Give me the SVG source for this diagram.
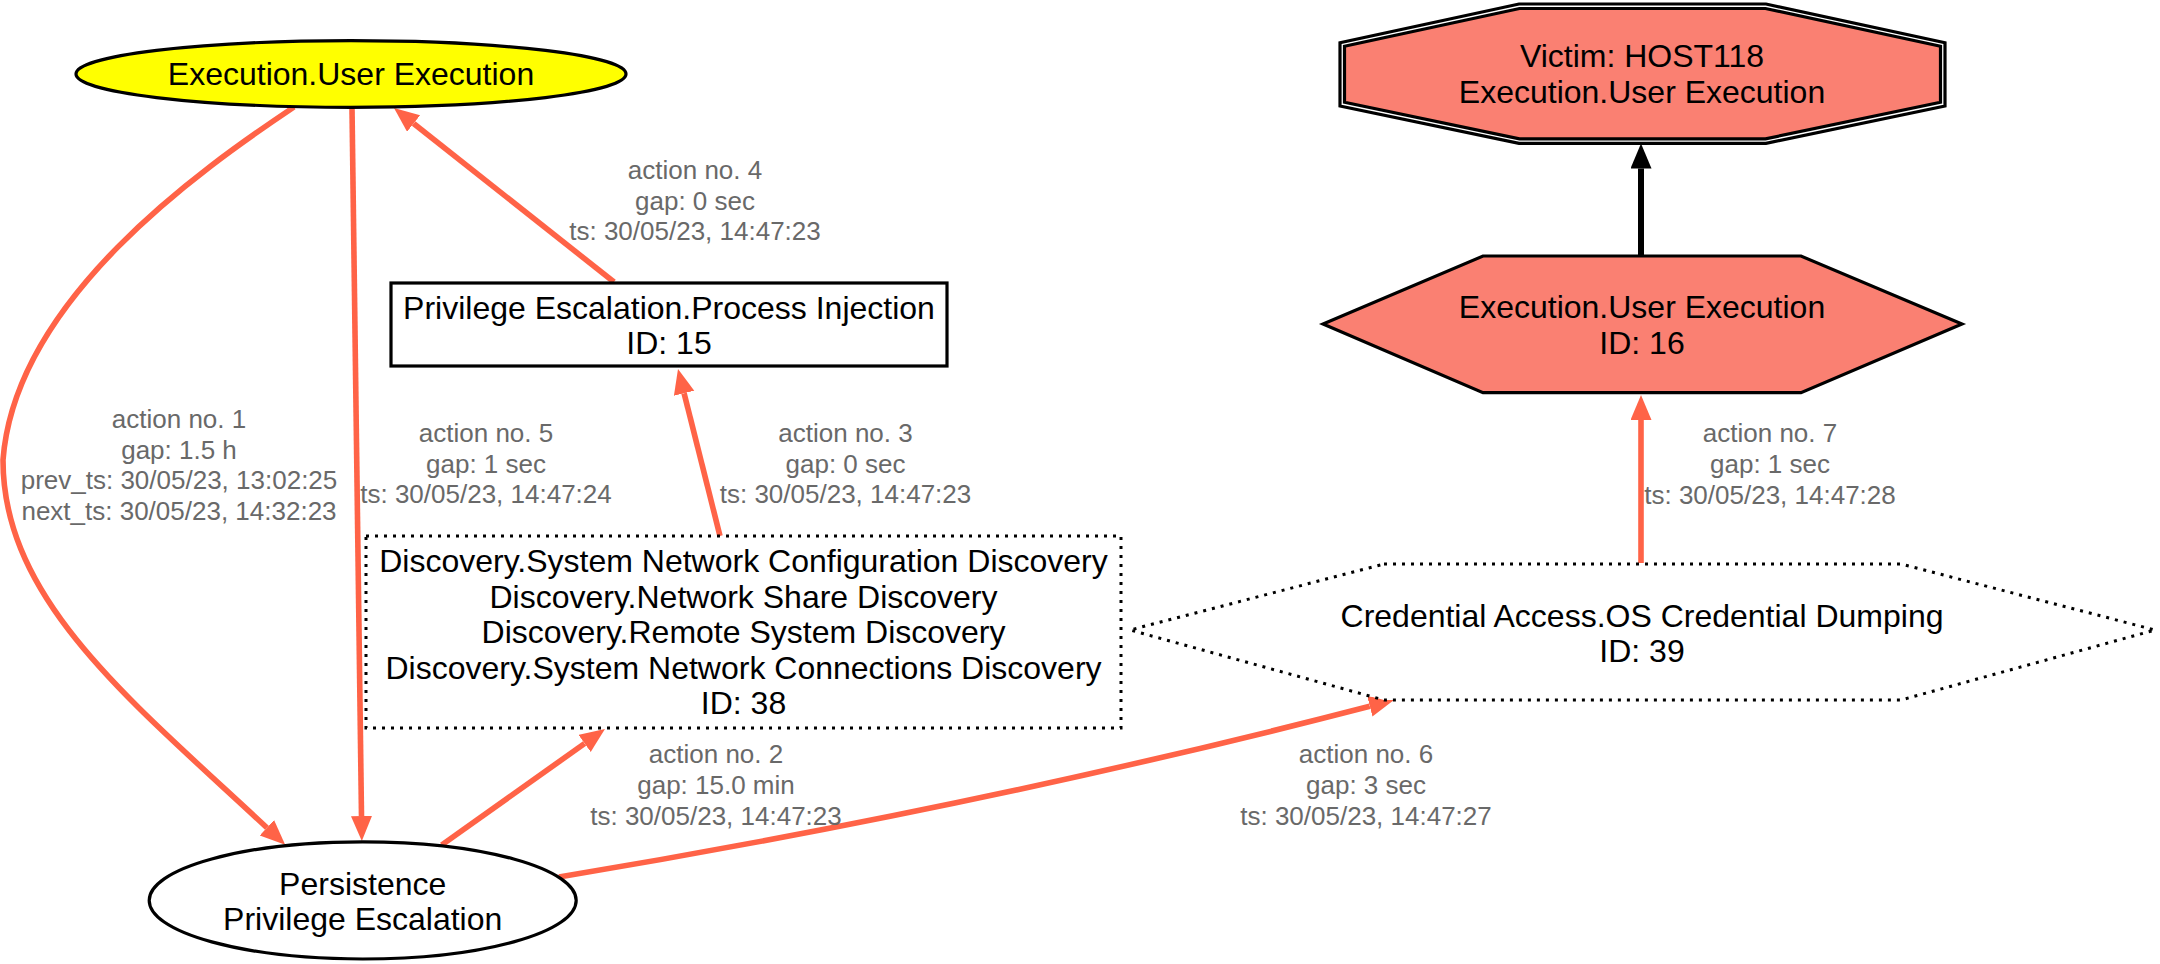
<svg xmlns="http://www.w3.org/2000/svg" width="2160" height="964" viewBox="0 0 2160 964">
<style>
.n{stroke:#000;stroke-width:3.2}
.dot{fill:#fff;stroke:#000;stroke-width:3;stroke-dasharray:3 6}
.t{font-family:"Liberation Sans",Arial,sans-serif;font-size:32px;fill:#000;text-anchor:middle}
.l{font-family:"Liberation Sans",Arial,sans-serif;font-size:26px;fill:#696969;text-anchor:middle}
.e{fill:none;stroke:#FF6347;stroke-width:5.6}
.k{fill:none;stroke:#000;stroke-width:6}
</style>
<defs>
<marker id="ar" markerUnits="userSpaceOnUse" markerWidth="27" markerHeight="23" refX="0" refY="10.5" orient="auto" viewBox="0 0 27 23">
<path d="M0,0 L25,10.5 L0,21 z" fill="#FF6347"/>
</marker>
<marker id="ak" markerUnits="userSpaceOnUse" markerWidth="27" markerHeight="23" refX="0" refY="10.5" orient="auto" viewBox="0 0 27 23">
<path d="M0,0 L25,10.5 L0,21 z" fill="#000"/>
</marker>
</defs>
<rect width="2160" height="964" fill="#fff"/>
<g id="connectors">
<path class="e" d="M294,107 C200,170 15,300 3,460 C3,600 130,700 266.9,827.7" marker-end="url(#ar)"/>
<path class="e" d="M352,108 L361.5,816" marker-end="url(#ar)"/>
<path class="e" d="M614,282 L413.6,123.5" marker-end="url(#ar)"/>
<path class="e" d="M720,536 L684.1,393.2" marker-end="url(#ar)"/>
<path class="e" d="M441.7,845 L584.6,743.5" marker-end="url(#ar)"/>
<path class="e" d="M559,877 Q985,806 1369.8,706.3" marker-end="url(#ar)"/>
<path class="e" d="M1641,563 L1641,420" marker-end="url(#ar)"/>
<path class="k" d="M1641,256 L1641,168.5" marker-end="url(#ak)"/>
<text class="l" x="179" y="428">action no. 1</text>
<text class="l" x="179" y="458.5">gap: 1.5 h</text>
<text class="l" x="179" y="489">prev_ts: 30/05/23, 13:02:25</text>
<text class="l" x="179" y="519.5">next_ts: 30/05/23, 14:32:23</text>
<text class="l" x="486" y="441.5">action no. 5</text>
<text class="l" x="486" y="472.5">gap: 1 sec</text>
<text class="l" x="486" y="503">ts: 30/05/23, 14:47:24</text>
<text class="l" x="695" y="179">action no. 4</text>
<text class="l" x="695" y="209.5">gap: 0 sec</text>
<text class="l" x="695" y="240">ts: 30/05/23, 14:47:23</text>
<text class="l" x="845.5" y="442">action no. 3</text>
<text class="l" x="845.5" y="472.5">gap: 0 sec</text>
<text class="l" x="845.5" y="503">ts: 30/05/23, 14:47:23</text>
<text class="l" x="716" y="763">action no. 2</text>
<text class="l" x="716" y="794">gap: 15.0 min</text>
<text class="l" x="716" y="825">ts: 30/05/23, 14:47:23</text>
<text class="l" x="1366" y="763">action no. 6</text>
<text class="l" x="1366" y="794">gap: 3 sec</text>
<text class="l" x="1366" y="825">ts: 30/05/23, 14:47:27</text>
<text class="l" x="1770" y="442">action no. 7</text>
<text class="l" x="1770" y="473">gap: 1 sec</text>
<text class="l" x="1770" y="504">ts: 30/05/23, 14:47:28</text>
</g>
<g id="node-user-exec">
<ellipse class="n" cx="351" cy="74" rx="275" ry="33.3" fill="#FFFF00"/>
<text class="t" x="351" y="85">Execution.User Execution</text>
</g>
<g id="node-15">
<rect class="n" x="391" y="283" width="556" height="83" fill="#fff"/>
<text class="t" x="669" y="319">Privilege Escalation.Process Injection</text>
<text class="t" x="669" y="354">ID: 15</text>
</g>
<g id="node-38">
<rect class="dot" x="366" y="536" width="755" height="192"/>
<text class="t" x="743.5" y="572">Discovery.System Network Configuration Discovery</text>
<text class="t" x="743.5" y="607.5">Discovery.Network Share Discovery</text>
<text class="t" x="743.5" y="643">Discovery.Remote System Discovery</text>
<text class="t" x="743.5" y="678.5">Discovery.System Network Connections Discovery</text>
<text class="t" x="743.5" y="714">ID: 38</text>
</g>
<g id="node-persistence">
<ellipse class="n" cx="362.7" cy="900.4" rx="213.5" ry="58.6" fill="#fff"/>
<text class="t" x="362.7" y="895">Persistence</text>
<text class="t" x="362.7" y="930">Privilege Escalation</text>
</g>
<g id="node-victim">
<polygon class="n" points="1519,4 1766,4 1945,42.7 1945,106 1766,143.3 1519,143.3 1340,106 1340,42.7" fill="none"/>
<polygon class="n" points="1519.5,8.5 1765.5,8.5 1940.5,46.3 1940.5,102.3 1765.5,138.8 1519.5,138.8 1344.5,102.3 1344.5,46.3" fill="#FA8072"/>
<text class="t" x="1642" y="67">Victim: HOST118</text>
<text class="t" x="1642" y="103">Execution.User Execution</text>
</g>
<g id="node-16">
<polygon class="n" points="1483,256 1801,256 1962,324 1801,392.7 1483,392.7 1323,324" fill="#FA8072"/>
<text class="t" x="1642" y="318">Execution.User Execution</text>
<text class="t" x="1642" y="354">ID: 16</text>
</g>
<g id="node-39">
<polygon class="dot" points="1384,564 1901,564 2155,630 1901,700 1384,700 1130,630"/>
<text class="t" x="1642" y="627">Credential Access.OS Credential Dumping</text>
<text class="t" x="1642" y="662">ID: 39</text>
</g>
</svg>
